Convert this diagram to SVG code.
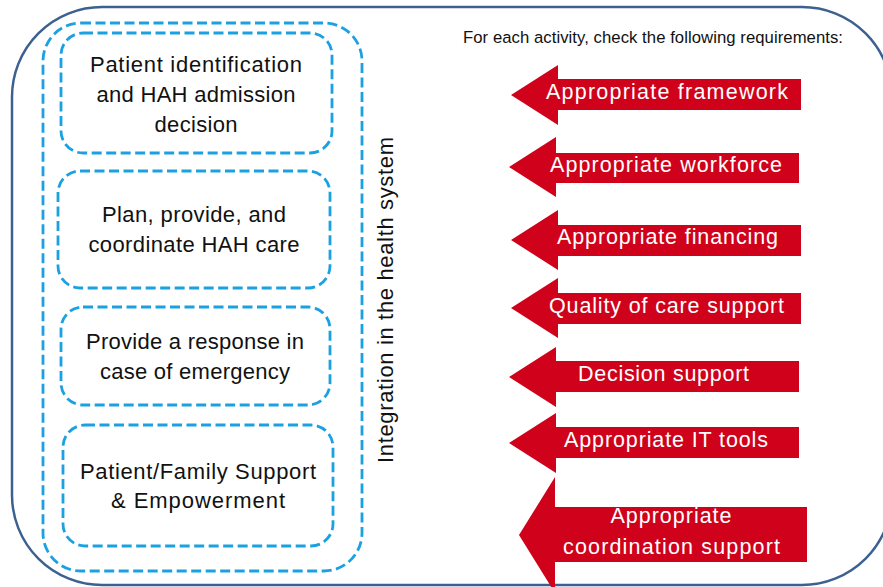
<svg xmlns="http://www.w3.org/2000/svg" width="883" height="587" viewBox="0 0 883 587">
<style>
.frame{fill:#fff;stroke:#3C6191;stroke-width:2.5}
.dash{fill:none;stroke:#1BA1E2;stroke-width:2.8;stroke-dasharray:10 4.5}
.lbl{font-family:"Liberation Sans",Arial,sans-serif;font-size:22px;fill:#111;text-anchor:middle}
.arr{fill:#D0021B}
.atx{font-family:"Liberation Sans",Arial,sans-serif;font-size:21.5px;fill:#fff;text-anchor:middle}
.hdr{font-family:"Liberation Sans",Arial,sans-serif;font-size:16.7px;fill:#111}
</style>
<rect class="frame" x="12" y="7" width="880" height="578" rx="90" ry="90"/>
<g id="integration">
<rect class="dash" x="43" y="23" width="319" height="548" rx="38" ry="38"/>
<text class="lbl" transform="translate(393,300) rotate(-90)" text-anchor="middle" textLength="326" lengthAdjust="spacing">Integration in the health system</text>
</g>
<g id="box1">
<rect class="dash" x="61" y="33" width="271" height="120" rx="22" ry="22"/>
<text class="lbl" x="196" y="72" textLength="212" lengthAdjust="spacing">Patient identification</text>
<text class="lbl" x="196" y="102" textLength="199" lengthAdjust="spacing">and HAH admission</text>
<text class="lbl" x="196" y="132" textLength="83" lengthAdjust="spacing">decision</text>
</g>
<g id="box2">
<rect class="dash" x="58" y="171" width="272" height="117" rx="22" ry="22"/>
<text class="lbl" x="194" y="222" textLength="184" lengthAdjust="spacing">Plan, provide, and</text>
<text class="lbl" x="194" y="252" textLength="211" lengthAdjust="spacing">coordinate HAH care</text>
</g>
<g id="box3">
<rect class="dash" x="61" y="307" width="269" height="98" rx="22" ry="22"/>
<text class="lbl" x="195" y="349" textLength="218" lengthAdjust="spacing">Provide a response in</text>
<text class="lbl" x="195" y="379" textLength="190" lengthAdjust="spacing">case of emergency</text>
</g>
<g id="box4">
<rect class="dash" x="63" y="425" width="270" height="121" rx="22" ry="22"/>
<text class="lbl" x="198" y="479" textLength="236" lengthAdjust="spacing">Patient/Family Support</text>
<text class="lbl" x="198" y="508" textLength="174" lengthAdjust="spacing">&amp; Empowerment</text>
</g>
<text class="hdr" x="463" y="43" textLength="380" lengthAdjust="spacing">For each activity, check the following requirements:</text>
<g id="connectors">
<g id="arrow1"><polygon class="arr" points="511,95 558,65 558,79 801,79 801,110 558,110 558,125"/>
<text class="atx" x="667" y="99" textLength="242" lengthAdjust="spacing">Appropriate framework</text></g>
<g id="arrow2"><polygon class="arr" points="509,167 556,137 556,153 799,153 799,183 556,183 556,197"/>
<text class="atx" x="666" y="172" textLength="232" lengthAdjust="spacing">Appropriate workforce</text></g>
<g id="arrow3"><polygon class="arr" points="511,240 558,210 558,225 801,225 801,256 558,256 558,270"/>
<text class="atx" x="667.5" y="244" textLength="221" lengthAdjust="spacing">Appropriate financing</text></g>
<g id="arrow4"><polygon class="arr" points="511,308 558,278 558,293 801,293 801,324 558,324 558,338"/>
<text class="atx" x="666.5" y="313" textLength="235" lengthAdjust="spacing">Quality of care support</text></g>
<g id="arrow5"><polygon class="arr" points="509,377 556,347 556,361 799,361 799,392 556,392 556,407"/>
<text class="atx" x="663.5" y="381" textLength="171" lengthAdjust="spacing">Decision support</text></g>
<g id="arrow6"><polygon class="arr" points="509,443 556,413 556,427 799,427 799,458 556,458 556,473"/>
<text class="atx" x="666" y="447" textLength="204" lengthAdjust="spacing">Appropriate IT tools</text></g>
<g id="arrow7"><polygon class="arr" points="519,535 555,477 555,507 807,507 807,562 555,562 555,593"/>
<text class="atx" x="671" y="523" textLength="121" lengthAdjust="spacing">Appropriate</text>
<text class="atx" x="671.5" y="554" textLength="217" lengthAdjust="spacing">coordination support</text></g>
</g>
</svg>
